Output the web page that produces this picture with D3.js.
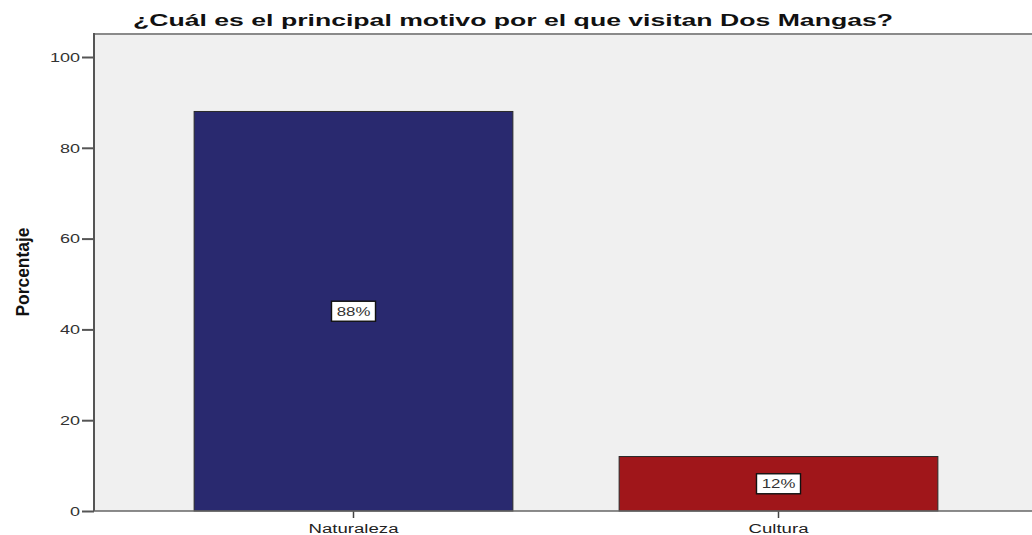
<!DOCTYPE html>
<html><head><meta charset="utf-8">
<script src="https://cdn.jsdelivr.net/npm/d3@7"></script>
<style>body{margin:0;background:#fff}svg{display:block}</style>
</head><body>
<svg id="c" width="1032" height="535"></svg>
<script>
const title = "¿Cuál es el principal motivo por el que visitan Dos Mangas?";
const yAxisTitle = "Porcentaje";
const categories = ["Naturaleza", "Cultura"];
const values = [88, 12];
const labels = ["88%", "12%"];
const colors = ["#29296f", "#a0161a"];
const yTicks = [0, 20, 40, 60, 80, 100];

const svg = d3.select("#c");
const plot = {left: 94, top: 34, right: 1038, bottom: 511};
const y = d3.scaleLinear().domain([0, 100]).range([plot.bottom, 57]);
const x = d3.scaleBand().domain(categories).range([141, 991]).paddingInner(0.25).paddingOuter(0.125);

function stretch(sel, f) {
  sel.each(function() {
    const w = this.getComputedTextLength();
    d3.select(this).attr("textLength", w * f).attr("lengthAdjust", "spacingAndGlyphs");
  });
}

// plot background
svg.append("rect").attr("x", plot.left).attr("y", plot.top)
  .attr("width", plot.right - plot.left).attr("height", plot.bottom - plot.top)
  .attr("fill", "#f0f0f0");
svg.append("line").attr("x1", plot.left).attr("x2", 1032).attr("y1", plot.top).attr("y2", plot.top)
  .attr("stroke", "#8a8a8a").attr("stroke-width", 2);

// bars
svg.selectAll("rect.bar").data(categories).join("rect").attr("class", "bar")
  .attr("x", d => x(d)).attr("width", x.bandwidth())
  .attr("y", (d, i) => y(values[i])).attr("height", (d, i) => y(0) - y(values[i]))
  .attr("fill", (d, i) => colors[i]).attr("stroke", "#2a2a2a").attr("stroke-width", 1);

// y axis
const yAxis = svg.append("g").attr("transform", `translate(${plot.left},0)`)
  .call(d3.axisLeft(y).tickValues(yTicks).tickSize(12).tickPadding(2).tickFormat(d3.format("d")));
yAxis.select(".domain").remove();
yAxis.selectAll(".tick line").attr("stroke", "#555").attr("stroke-width", 2);
yAxis.selectAll(".tick text").attr("fill", "#333").style("font-family", "Liberation Sans, Arial, sans-serif")
  .style("font-size", "12px").attr("dy", "0.36em");
stretch(yAxis.selectAll(".tick text"), 1.5);
svg.append("line").attr("x1", plot.left).attr("x2", plot.left).attr("y1", plot.top - 1).attr("y2", plot.bottom)
  .attr("stroke", "#555").attr("stroke-width", 2);

// x axis
const xAxis = svg.append("g").attr("transform", `translate(0,${plot.bottom})`)
  .call(d3.axisBottom(x).tickSize(7).tickPadding(5));
xAxis.select(".domain").remove();
xAxis.selectAll(".tick line").attr("stroke", "#444").attr("stroke-width", 1.5);
xAxis.selectAll(".tick text").attr("fill", "#222").style("font-family", "Liberation Sans, Arial, sans-serif")
  .style("font-size", "12px").attr("dy", "0.8em");
stretch(xAxis.selectAll(".tick text"), 1.55);
svg.append("line").attr("x1", plot.left).attr("x2", 1032).attr("y1", plot.bottom).attr("y2", plot.bottom)
  .attr("stroke", "#666").attr("stroke-width", 1.5);

// value labels
const lg = svg.selectAll("g.lab").data(categories).join("g").attr("class", "lab")
  .attr("transform", (d, i) => `translate(${x(d) + x.bandwidth() / 2},${(y(values[i]) + y(0)) / 2})`);
lg.append("rect").attr("x", -22).attr("y", -10).attr("width", 44).attr("height", 20)
  .attr("fill", "#fff").attr("stroke", "#111").attr("stroke-width", 1.4);
const lt = lg.append("text").attr("text-anchor", "middle").attr("dy", "0.36em")
  .style("font-family", "Liberation Sans, Arial, sans-serif").style("font-size", "12px").attr("fill", "#333")
  .text((d, i) => labels[i]);
stretch(lt, 1.4);

// y axis title
svg.append("text").attr("transform", "translate(29,272) rotate(-90)").attr("text-anchor", "middle")
  .style("font-family", "Liberation Sans Narrow, Arial Narrow, Liberation Sans, sans-serif")
  .style("font-weight", "bold").style("font-size", "19px").attr("fill", "#111")
  .attr("textLength", 89).attr("lengthAdjust", "spacingAndGlyphs").text(yAxisTitle);

// title
svg.append("text").attr("x", 513).attr("y", 26).attr("text-anchor", "middle")
  .style("font-family", "Liberation Sans, Arial, sans-serif").style("font-weight", "bold")
  .style("font-size", "17px").attr("fill", "#111")
  .attr("textLength", 760).attr("lengthAdjust", "spacingAndGlyphs").text(title);
</script>
</body></html>
